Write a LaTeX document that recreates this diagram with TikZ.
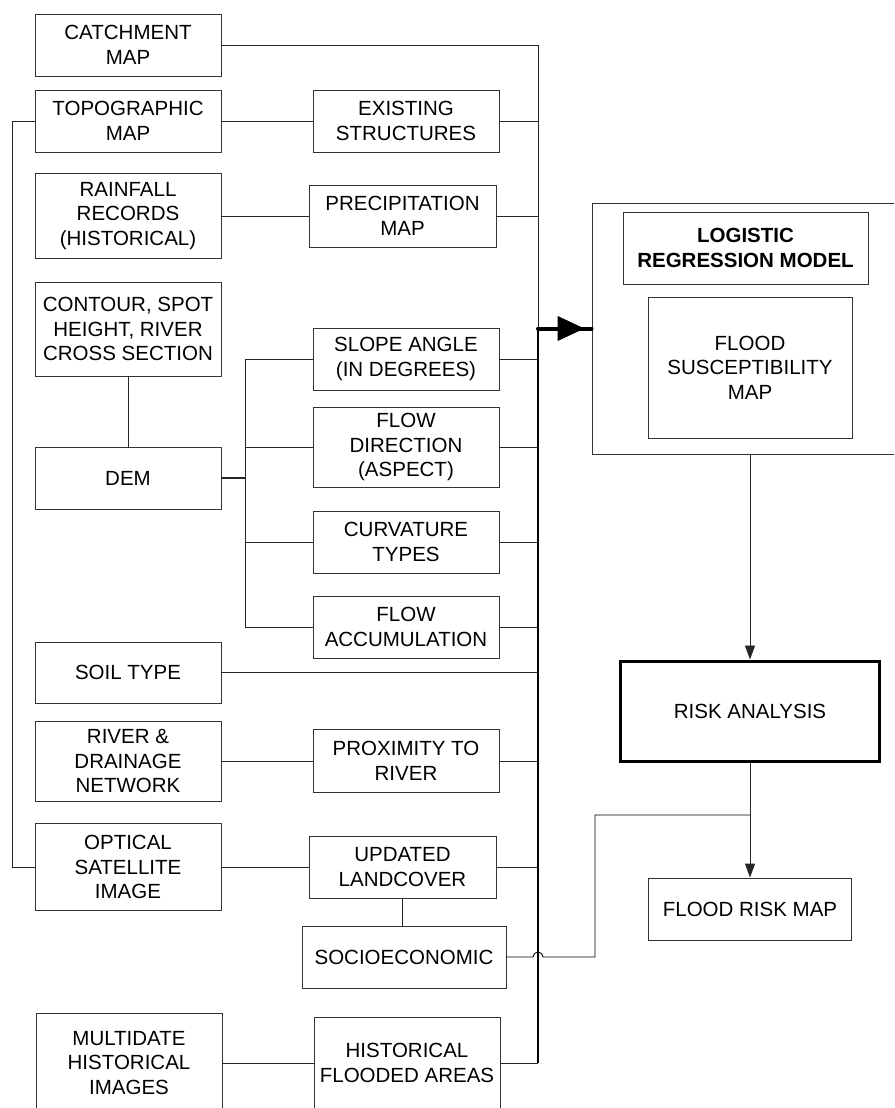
\documentclass[tikz,border=0pt]{standalone}
\usepackage{fontspec}
\setmainfont{Liberation Sans}
\usetikzlibrary{arrows.meta,positioning}

\begin{document}
\begin{tikzpicture}[x=1pt,y=-1pt,
  blk/.style={draw=black!80, line width=0.9pt, align=center, inner sep=2pt, minimum width=186pt, font=\fontsize{20.5}{24.5}\selectfont},
  wire/.style={draw=black!85, line width=0.9pt},
  tip/.style={-{Triangle[length=14pt,width=10pt]}}]
  \useasboundingbox (0,0) rectangle (894,1108);
  \clip (0,0) rectangle (894,1108);

  %--- input data ---
  \node[blk, minimum height=62pt] (catch) at (128,45) {CATCHMENT\\MAP};
  \node[blk, minimum height=62pt] (topo) at (128,121) {TOPOGRAPHIC\\MAP};
  \node[blk, minimum height=85pt] (rain) at (128,216) {RAINFALL\\RECORDS\\(HISTORICAL)};
  \node[blk, minimum height=94pt] (contour) at (128,329) {CONTOUR, SPOT\\HEIGHT, RIVER\\CROSS SECTION};
  \node[blk, minimum height=62pt] (dem) at (128,478) {DEM};
  \node[blk, minimum height=61pt] (soil) at (128,672.5) {SOIL TYPE};
  \node[blk, minimum height=80pt] (river) at (128,761) {RIVER \&\\DRAINAGE\\NETWORK};
  \node[blk, minimum height=87pt] (optical) at (128,867) {OPTICAL\\SATELLITE\\IMAGE};
  \node[blk, minimum height=100pt] (multi) at (129,1063) {MULTIDATE\\HISTORICAL\\IMAGES};

  %--- derived factors ---
  \node[blk, minimum height=62pt] (exist) at (406,121) {EXISTING\\STRUCTURES};
  \node[blk, minimum width=187pt, minimum height=62pt] (precip) at (402.5,216) {PRECIPITATION\\MAP};
  \node[blk, minimum height=62pt] (slope) at (406,359) {SLOPE ANGLE\\(IN DEGREES)};
  \node[blk, minimum height=80pt] (flowdir) at (406,447) {FLOW\\DIRECTION\\(ASPECT)};
  \node[blk, minimum height=62pt] (curv) at (406,542) {CURVATURE\\TYPES};
  \node[blk, minimum height=62pt] (flowacc) at (406,627) {FLOW\\ACCUMULATION};
  \node[blk, minimum height=63pt] (prox) at (406,761) {PROXIMITY TO\\RIVER};
  \node[blk, minimum width=187pt, minimum height=62pt] (landc) at (402.5,867) {UPDATED\\LANDCOVER};
  \node[blk, minimum width=204pt, minimum height=62pt] (socio) at (404,957) {SOCIOECONOMIC};
  \node[blk, minimum height=92pt] (hist) at (407,1063) {HISTORICAL\\FLOODED AREAS};

  %--- model and outputs ---
  \node[blk, minimum width=316pt, minimum height=251pt] (frame) at (750,328.5) {};
  \node[blk, minimum width=245pt, minimum height=72pt, font=\fontsize{20.5}{24.5}\selectfont\bfseries] (logit) at (745.5,248) {LOGISTIC\\REGRESSION MODEL};
  \node[blk, minimum width=204pt, minimum height=141pt] (suscept) at (750,367.5) {FLOOD\\SUSCEPTIBILITY\\MAP};
  \node[blk, line width=3pt, draw=black, minimum width=259pt, minimum height=100pt] (risk) at (750,711) {RISK ANALYSIS};
  \node[blk, minimum width=203pt, minimum height=62pt] (frmap) at (750,909) {FLOOD RISK MAP};

  \coordinate (bus) at (538,0);
  \coordinate (lft) at (12,0);
  \coordinate (demb) at (245,0);
  \coordinate (sbend) at (595,815);
  \coordinate (sjoin) at (750,815);

  %--- collector line ---
  \draw[wire] (catch.east) -- (catch.east -| bus) -- (frame.west -| bus);
  \draw[wire, line width=1.4pt, draw=black] (frame.west -| bus) -- (hist.east -| bus);
  \draw[wire] (hist.east -| bus) -- (hist.east);
  \foreach \n in {exist,precip,slope,flowdir,curv,flowacc,soil,prox,landc}
    \draw[wire] (\n.east) -- (\n.east -| bus);

  %--- input links ---
  \draw[wire] (topo.east) -- (exist.west);
  \draw[wire] (rain.east) -- (precip.west);
  \draw[wire] (river.east) -- (prox.west);
  \draw[wire] (optical.east) -- (landc.west);
  \draw[wire] (multi.east) -- (hist.west);
  \draw[wire] (topo.west) -- (topo.west -| lft) |- (optical.west);
  \draw[wire] (contour.south) -- (dem.north);
  \draw[wire] (landc.south) -- (landc.south |- socio.north);

  %--- DEM derivatives ---
  \draw[wire, line width=1.3pt] (dem.east) -- (dem.east -| demb);
  \draw[wire] (slope.west -| demb) -- (flowacc.west -| demb);
  \foreach \n in {slope,flowdir,curv,flowacc}
    \draw[wire] (\n.west -| demb) -- (\n.west);

  %--- into the model ---
  \draw[line width=4pt, line cap=round] (frame.west -| bus) -- (frame.west);
  \draw[line width=4pt, -{Triangle[length=27pt,width=24pt]}] (frame.west -| bus) -- ([xshift=-7pt]frame.west);
  \draw[wire, tip] (frame.south) -- (risk.north);
  \draw[wire, tip] (risk.south) -- (frmap.north);

  %--- socioeconomic to risk map ---
  \draw[wire, draw=black] (socio.east) -- ([xshift=-5pt]socio.east -| bus) arc[start angle=180, end angle=0, radius=5pt]
    -- (sbend |- socio.east) -- (sbend) -- (sjoin);
\end{tikzpicture}
\end{document}
